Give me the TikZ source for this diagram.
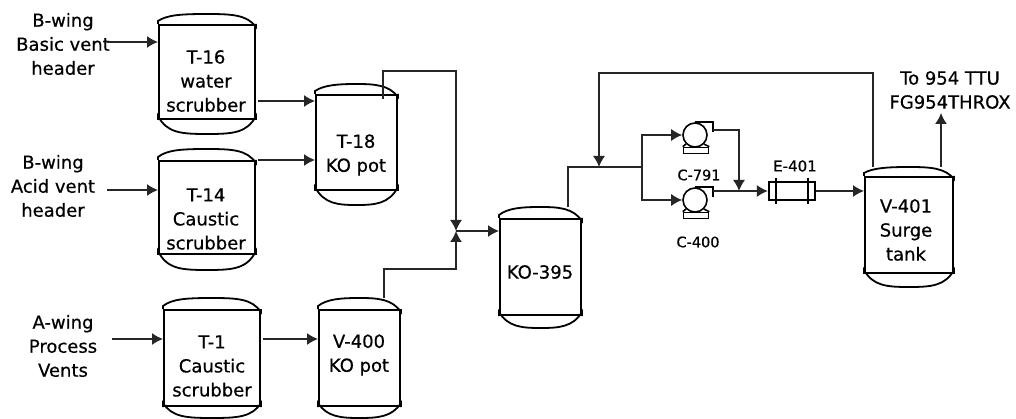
\documentclass[tikz,border=0pt]{standalone}
\usepackage{fontspec}
\setmainfont{DejaVu Sans}
\newfontfamily\lblfont[FakeBold=0.5]{DejaVu Sans}
\usetikzlibrary{arrows.meta,calc}
\tikzset{
  vesselbody/.style={draw=black,line width=2pt,rectangle,inner sep=0pt},
  dome/.style={draw=black,line width=1.8pt},
  lbl/.style={align=center,inner sep=0pt,font=\lblfont\fontsize{18}{24}\selectfont},
  small/.style={align=center,inner sep=0pt,font=\lblfont\fontsize{14.5}{16}\selectfont},
  flow/.style={draw=black!85,line width=1.4pt},
  flowa/.style={flow,-{Latex[length=11pt,width=12pt]}},
  equip/.style={draw=black,line width=1.6pt,inner sep=0pt},
}
% name, left, right, dome top, top line, bottom line, dome bottom
\newcommand{\vesselx}[7]{%
  \node[vesselbody,minimum width={(#3-#2)*1pt},minimum height={(#6-#5)*1pt}] (#1) at ({(#2+#3)/2},{(#5+#6)/2}) {};
  \draw[dome] (#1.north west) -- ++(0,-3) .. controls ({#2+8},{#4+1}) and ({#2+22},#4) .. ({(#2+#3)/2},#4)
     .. controls ({#3-22},#4) and ({#3-8},{#4+1}) .. ($(#1.north east)+(0,3)$) -- (#1.north east);
  \draw[dome] (#1.south west) -- ++(0,-4) .. controls ({#2+8},{#7-1}) and ({#2+22},#7) .. ({(#2+#3)/2},#7)
     .. controls ({#3-22},#7) and ({#3-8},{#7-1}) .. ($(#1.south east)+(0,-4)$) -- (#1.south east);
}
\begin{document}
\begin{tikzpicture}[x=1pt,y=-1pt]
\useasboundingbox (0,0) rectangle (1016,419);
\fill[white] (0,0) rectangle (1016,419);

\vesselx{t16}{159}{255}{14}{25}{119}{134}
\vesselx{t14}{159}{255}{149}{161}{254}{270}
\vesselx{t18}{316}{397}{84}{95}{190}{205}
\vesselx{t1}{164}{260}{298}{310}{406}{418}
\vesselx{v400}{319}{400}{298}{310}{406}{418}
\vesselx{ko}{500}{581}{207}{219}{315}{328}
\vesselx{v401}{865}{953}{167}{177}{273}{287}

\node[lbl] (t16l) at (206,81) {T-16\\water\\scrubber};
\node[lbl] (t14l) at (206,219) {T-14\\Caustic\\scrubber};
\node[lbl] (t18l) at (356,155) {T-18\\KO pot};
\node[lbl] (t1l) at (212,366) {T-1\\Caustic\\scrubber};
\node[lbl] (v400l) at (359,355) {V-400\\KO pot};
\node[lbl] (kol) at (540,272) {KO-395};
\node[lbl] (v401l) at (906,230) {V-401\\Surge\\tank};

\node[lbl] (in1) at (63,44) {B-wing\\Basic vent\\header};
\node[lbl] (in2) at (53,186) {B-wing\\Acid vent\\header};
\node[lbl] (in3) at (63,346) {A-wing\\Process\\Vents};
\node[lbl] (dest) at (950,90) {To 954 TTU\\FG954THROX};

% pumps
\node[equip,circle,minimum size=24pt] (c791) at (695,135) {};
\node[equip,rectangle,minimum width=25pt,minimum height=6pt] (c791b) at (696,150.5) {};
\draw[equip] (c791.south west) -- (c791b.north west) (c791.south east) -- (c791b.north east);
\draw[equip] (c791.north) -- ++(18,0) -- ++(0,10);
\node[equip,circle,minimum size=24pt] (c400) at (695,200) {};
\node[equip,rectangle,minimum width=25pt,minimum height=6pt] (c400b) at (696,215.5) {};
\draw[equip] (c400.south west) -- (c400b.north west) (c400.south east) -- (c400b.north east);
\draw[equip] (c400.north) -- ++(18,0) -- ++(0,10);
\node[small] (c791l) at (699,175) {C-791};
\node[small] (c400l) at (698,242) {C-400};

% exchanger
\node[equip,rectangle,line width=2.2pt,minimum width=46pt,minimum height=18pt] (e401) at (792,191) {};
\coordinate (ts1) at (776,178); \coordinate (ts2) at (808,178);
\draw[equip,line width=2.2pt] (ts1) -- ++(0,26) (ts2) -- ++(0,26);
\node[small,font=\lblfont\fontsize{15}{16}\selectfont] (e401l) at (795,166) {E-401};

% junctions and bends
\coordinate (jm) at (456,231);
\coordinate (jk) at (568,167);
\coordinate (jr) at (599,167);
\coordinate (js) at (642,167);
\coordinate (jd) at (739,191);

\draw[flowa] (107,42) -- (t16.west |- 0,42);
\draw[flowa] (107,190) -- (t14.west |- 0,190);
\draw[flowa] (112,339) -- (t1.west |- 0,339);
\draw[flowa] (258,101) -- (t18.west |- 0,101);
\draw[flowa] (258,160) -- (t18.west |- 0,160);
\draw[flowa] (263,339) -- (v400.west |- 0,339);

\draw[flowa] (383,99) -- (383,71) -- (jm |- 0,71) -- (jm);
\draw[flowa] (384,298) -- (384,269) -- (jm |- 0,269) -- (jm);
\draw[flowa] (jm) -- (ko.west |- jm);

\draw[flow] (568,207) -- (jk) -- (js);
\draw[flowa] (873,167) -- (873,73) -- (jr |- 0,73) -- (jr);
\draw[flowa] (js) -- (js |- c791) -- (c791.west);
\draw[flowa] (js) -- (js |- c400) -- (c400.west);
\draw[flowa] (713,130) -- (jd |- 0,130) -- (jd);
\draw[flowa] (713,191) -- (e401.west |- jd);
\draw[flowa] (e401.east) -- (v401.west |- e401);
\draw[flowa] (941,167) -- (941,113);
\end{tikzpicture}
\end{document}
